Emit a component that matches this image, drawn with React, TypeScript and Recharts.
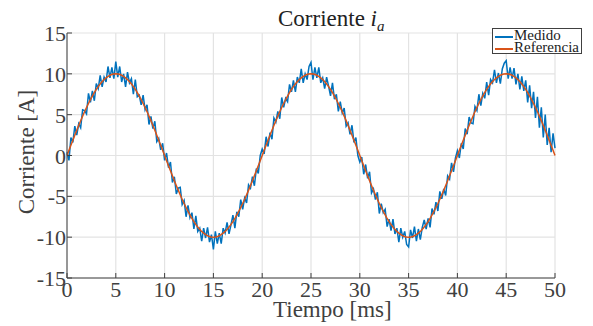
import { LineChart, Line, XAxis, YAxis, CartesianGrid } from 'recharts';

// Colores por defecto de MATLAB
const COLORS = {
  medido: '#0072BD',
  referencia: '#D95319',
  axis: '#404040',
  grid: '#e3e3e3',
};

const FONT = '"Liberation Serif", "Times New Roman", serif';

const xTicks = [0, 5, 10, 15, 20, 25, 30, 35, 40, 45, 50];
const yTicks = [-15, -10, -5, 0, 5, 10, 15];

// tiempo de la medida en ms (muestreo 0.2 ms)
const tiempoMedido = [
  0, 0.2, 0.4, 0.6, 0.8, 1, 1.2, 1.4, 1.6, 1.8, 2, 2.2, 2.4, 2.6, 2.8, 3, 3.2, 3.4, 3.6, 3.8, 4, 4.2, 4.4, 4.6, 4.8,
  5, 5.2, 5.4, 5.6, 5.8, 6, 6.2, 6.4, 6.6, 6.8, 7, 7.2, 7.4, 7.6, 7.8, 8, 8.2, 8.4, 8.6, 8.8, 9, 9.2, 9.4, 9.6, 9.8,
  10, 10.2, 10.4, 10.6, 10.8, 11, 11.2, 11.4, 11.6, 11.8, 12, 12.2, 12.4, 12.6, 12.8, 13, 13.2, 13.4, 13.6, 13.8, 14, 14.2, 14.4, 14.6, 14.8,
  15, 15.2, 15.4, 15.6, 15.8, 16, 16.2, 16.4, 16.6, 16.8, 17, 17.2, 17.4, 17.6, 17.8, 18, 18.2, 18.4, 18.6, 18.8, 19, 19.2, 19.4, 19.6, 19.8,
  20, 20.2, 20.4, 20.6, 20.8, 21, 21.2, 21.4, 21.6, 21.8, 22, 22.2, 22.4, 22.6, 22.8, 23, 23.2, 23.4, 23.6, 23.8, 24, 24.2, 24.4, 24.6, 24.8,
  25, 25.2, 25.4, 25.6, 25.8, 26, 26.2, 26.4, 26.6, 26.8, 27, 27.2, 27.4, 27.6, 27.8, 28, 28.2, 28.4, 28.6, 28.8, 29, 29.2, 29.4, 29.6, 29.8,
  30, 30.2, 30.4, 30.6, 30.8, 31, 31.2, 31.4, 31.6, 31.8, 32, 32.2, 32.4, 32.6, 32.8, 33, 33.2, 33.4, 33.6, 33.8, 34, 34.2, 34.4, 34.6, 34.8,
  35, 35.2, 35.4, 35.6, 35.8, 36, 36.2, 36.4, 36.6, 36.8, 37, 37.2, 37.4, 37.6, 37.8, 38, 38.2, 38.4, 38.6, 38.8, 39, 39.2, 39.4, 39.6, 39.8,
  40, 40.2, 40.4, 40.6, 40.8, 41, 41.2, 41.4, 41.6, 41.8, 42, 42.2, 42.4, 42.6, 42.8, 43, 43.2, 43.4, 43.6, 43.8, 44, 44.2, 44.4, 44.6, 44.8,
  45, 45.2, 45.4, 45.6, 45.8, 46, 46.2, 46.4, 46.6, 46.8, 47, 47.2, 47.4, 47.6, 47.8, 48, 48.2, 48.4, 48.6, 48.8, 49, 49.2, 49.4, 49.6, 49.8,
  50,
];

// corriente medida [A]
const medido = [
  0.4, -0.6, 2.2, 1.6, 3.6, 2.5, 3.9, 3.4, 5.6, 5.5, 5.1, 7.6, 6.5, 7.9, 6.7, 8.8, 8.2, 9.8, 8.4, 9.6, 9.0, 10.9, 9.5, 10.8, 9.4,
  11.5, 9.6, 10.9, 9.0, 10.0, 8.4, 10.2, 8.9, 9.4, 7.5, 9.3, 7.2, 7.4, 6.2, 7.4, 5.6, 6.2, 3.8, 4.8, 3.3, 4.2, 1.7, 2.1, 0.7, 1.5,
  -0.6, 0.3, -1.5, -0.8, -3.3, -2.6, -4.7, -4.0, -3.9, -6.0, -5.5, -7.5, -6.1, -7.6, -7.0, -9.0, -7.4, -9.3, -8.9, -10.5, -8.9, -10.1, -8.8, -10.6, -9.7,
  -11.5, -9.3, -10.8, -9.5, -10.8, -8.9, -9.5, -8.2, -9.6, -8.5, -7.3, -8.9, -6.9, -7.5, -5.4, -6.6, -5.2, -5.8, -3.6, -4.0, -2.6, -3.7, -1.6, -2.2, 0.0,
  0.8, 0.2, 2.3, 1.1, 2.8, 2.0, 4.6, 4.1, 5.4, 4.5, 7.1, 5.9, 7.0, 6.6, 8.7, 7.8, 9.2, 7.8, 9.6, 8.9, 10.6, 8.9, 10.0, 9.3, 10.9,
  11.4, 9.3, 10.8, 9.5, 10.8, 8.9, 9.5, 8.2, 9.6, 8.5, 7.3, 8.9, 6.9, 7.5, 5.4, 6.6, 5.2, 5.8, 3.6, 4.0, 2.6, 3.7, 1.6, 2.2, 0.0,
  -0.8, -0.2, -2.3, -1.1, -2.8, -2.0, -4.6, -4.1, -5.4, -4.5, -7.1, -5.9, -7.0, -6.6, -8.7, -7.8, -9.2, -7.8, -9.6, -8.9, -10.6, -8.9, -10.0, -9.3, -10.9,
  -11.2, -9.1, -10.1, -8.7, -10.5, -9.0, -10.3, -8.8, -7.9, -9.0, -7.7, -8.8, -6.5, -7.2, -5.7, -6.8, -4.4, -5.3, -4.1, -4.9, -2.5, -2.9, -0.9, -2.0, -0.3,
  0.6, -0.3, 1.5, 0.8, 3.3, 2.6, 4.7, 4.0, 3.9, 6.0, 5.5, 7.5, 6.1, 7.6, 7.0, 9.0, 7.4, 9.3, 8.9, 10.5, 8.9, 10.1, 8.8, 10.6, 11.3,
  11.6, 9.4, 10.8, 9.4, 10.7, 8.7, 10.0, 8.1, 9.7, 7.9, 9.2, 6.5, 8.6, 5.8, 7.8, 4.6, 7.2, 3.4, 5.9, 2.2, 5.0, 1.3, 3.4, 0.4, 2.7,
  0.9,
];

// tiempo de la referencia en ms (muestreo 0.25 ms)
const tiempoRef = [
  0, 0.25, 0.5, 0.75, 1, 1.25, 1.5, 1.75, 2, 2.25, 2.5, 2.75, 3, 3.25, 3.5, 3.75, 4, 4.25, 4.5, 4.75,
  5, 5.25, 5.5, 5.75, 6, 6.25, 6.5, 6.75, 7, 7.25, 7.5, 7.75, 8, 8.25, 8.5, 8.75, 9, 9.25, 9.5, 9.75,
  10, 10.25, 10.5, 10.75, 11, 11.25, 11.5, 11.75, 12, 12.25, 12.5, 12.75, 13, 13.25, 13.5, 13.75, 14, 14.25, 14.5, 14.75,
  15, 15.25, 15.5, 15.75, 16, 16.25, 16.5, 16.75, 17, 17.25, 17.5, 17.75, 18, 18.25, 18.5, 18.75, 19, 19.25, 19.5, 19.75,
  20, 20.25, 20.5, 20.75, 21, 21.25, 21.5, 21.75, 22, 22.25, 22.5, 22.75, 23, 23.25, 23.5, 23.75, 24, 24.25, 24.5, 24.75,
  25, 25.25, 25.5, 25.75, 26, 26.25, 26.5, 26.75, 27, 27.25, 27.5, 27.75, 28, 28.25, 28.5, 28.75, 29, 29.25, 29.5, 29.75,
  30, 30.25, 30.5, 30.75, 31, 31.25, 31.5, 31.75, 32, 32.25, 32.5, 32.75, 33, 33.25, 33.5, 33.75, 34, 34.25, 34.5, 34.75,
  35, 35.25, 35.5, 35.75, 36, 36.25, 36.5, 36.75, 37, 37.25, 37.5, 37.75, 38, 38.25, 38.5, 38.75, 39, 39.25, 39.5, 39.75,
  40, 40.25, 40.5, 40.75, 41, 41.25, 41.5, 41.75, 42, 42.25, 42.5, 42.75, 43, 43.25, 43.5, 43.75, 44, 44.25, 44.5, 44.75,
  45, 45.25, 45.5, 45.75, 46, 46.25, 46.5, 46.75, 47, 47.25, 47.5, 47.75, 48, 48.25, 48.5, 48.75, 49, 49.25, 49.5, 49.75,
  50,
];

// corriente de referencia [A]
const referencia = [
  0, 0.79, 1.56, 2.33, 3.09, 3.83, 4.54, 5.23, 5.88, 6.49, 7.07, 7.6, 8.09, 8.53, 8.91, 9.24, 9.51, 9.72, 9.88, 9.97,
  10, 9.97, 9.88, 9.72, 9.51, 9.24, 8.91, 8.53, 8.09, 7.6, 7.07, 6.49, 5.88, 5.23, 4.54, 3.83, 3.09, 2.33, 1.56, 0.79,
  0, -0.79, -1.56, -2.33, -3.09, -3.83, -4.54, -5.23, -5.88, -6.49, -7.07, -7.6, -8.09, -8.53, -8.91, -9.24, -9.51, -9.72, -9.88, -9.97,
  -10, -9.97, -9.88, -9.72, -9.51, -9.24, -8.91, -8.53, -8.09, -7.6, -7.07, -6.49, -5.88, -5.23, -4.54, -3.83, -3.09, -2.33, -1.56, -0.79,
  0, 0.79, 1.56, 2.33, 3.09, 3.83, 4.54, 5.23, 5.88, 6.49, 7.07, 7.6, 8.09, 8.53, 8.91, 9.24, 9.51, 9.72, 9.88, 9.97,
  10, 9.97, 9.88, 9.72, 9.51, 9.24, 8.91, 8.53, 8.09, 7.6, 7.07, 6.49, 5.88, 5.23, 4.54, 3.83, 3.09, 2.33, 1.56, 0.79,
  0, -0.79, -1.56, -2.33, -3.09, -3.83, -4.54, -5.23, -5.88, -6.49, -7.07, -7.6, -8.09, -8.53, -8.91, -9.24, -9.51, -9.72, -9.88, -9.97,
  -10, -9.97, -9.88, -9.72, -9.51, -9.24, -8.91, -8.53, -8.09, -7.6, -7.07, -6.49, -5.88, -5.23, -4.54, -3.83, -3.09, -2.33, -1.56, -0.79,
  0, 0.79, 1.56, 2.33, 3.09, 3.83, 4.54, 5.23, 5.88, 6.49, 7.07, 7.6, 8.09, 8.53, 8.91, 9.24, 9.51, 9.72, 9.88, 9.97,
  10, 9.97, 9.88, 9.72, 9.51, 9.24, 8.91, 8.53, 8.09, 7.6, 7.07, 6.49, 5.88, 5.23, 4.54, 3.83, 3.09, 2.33, 1.56, 0.79,
  0,
];

const medidoData = tiempoMedido.map((t, i) => ({ t, medido: medido[i] }));
const refData = tiempoRef.map((t, i) => ({ t, referencia: referencia[i] }));

const TICK_LEN = 5;

// ticks hacia dentro, estilo MATLAB
const BottomTick = ({ x, y, payload }: any) => (
  <g>
    <line x1={x} x2={x} y1={y} y2={y - TICK_LEN} stroke={COLORS.axis} />
    <text x={x} y={y + 19} textAnchor="middle" fill={COLORS.axis} fontSize={22} fontFamily={FONT}>
      {payload.value}
    </text>
  </g>
);

const LeftTick = ({ x, y, payload }: any) => (
  <g>
    <line x1={x} x2={x + TICK_LEN} y1={y} y2={y} stroke={COLORS.axis} />
    <text x={x - 1} y={y + 8} textAnchor="end" fill={COLORS.axis} fontSize={22} fontFamily={FONT}>
      {payload.value}
    </text>
  </g>
);

const TopTick = ({ x, y }: any) => (
  <line x1={x} x2={x} y1={y} y2={y + TICK_LEN} stroke={COLORS.axis} />
);

const RightTick = ({ x, y }: any) => (
  <line x1={x - TICK_LEN} x2={x} y1={y} y2={y} stroke={COLORS.axis} />
);

const legendItems = [
  { name: 'Medido', color: COLORS.medido },
  { name: 'Referencia', color: COLORS.referencia },
];

export default function App() {
  return (
    <div style={{ position: 'absolute', left: 0, top: 0, width: 593, height: 326, background: '#fff' }}>
      <LineChart width={593} height={326} margin={{ top: 33, right: 38, left: 0, bottom: 0 }}>
        <CartesianGrid stroke={COLORS.grid} strokeWidth={1.2} />
        <XAxis
          dataKey="t"
          type="number"
          domain={[0, 50]}
          ticks={xTicks}
          height={48}
          tickSize={0}
          tickMargin={0}
          stroke={COLORS.axis}
          tick={<BottomTick />}
          interval={0}
          allowDuplicatedCategory={false}
        />
        <XAxis
          xAxisId="top"
          orientation="top"
          dataKey="t"
          type="number"
          domain={[0, 50]}
          ticks={xTicks}
          height={0}
          tickSize={0}
          tickMargin={0}
          stroke={COLORS.axis}
          tick={<TopTick />}
          interval={0}
        />
        <YAxis
          type="number"
          domain={[-15, 15]}
          ticks={yTicks}
          width={67}
          tickSize={0}
          tickMargin={0}
          stroke={COLORS.axis}
          tick={<LeftTick />}
          interval={0}
        />
        <YAxis
          yAxisId="right"
          orientation="right"
          type="number"
          domain={[-15, 15]}
          ticks={yTicks}
          width={0}
          tickSize={0}
          tickMargin={0}
          stroke={COLORS.axis}
          tick={<RightTick />}
          interval={0}
        />
        <Line
          data={medidoData}
          type="linear"
          dataKey="medido"
          stroke={COLORS.medido}
          strokeWidth={1.5}
          dot={false}
          isAnimationActive={false}
        />
        <Line
          data={refData}
          type="linear"
          dataKey="referencia"
          stroke={COLORS.referencia}
          strokeWidth={1.5}
          dot={false}
          isAnimationActive={false}
        />
      </LineChart>
      <div
        style={{
          position: 'absolute',
          left: 492,
          top: 28,
          border: `1px solid ${COLORS.axis}`,
          background: '#fff',
          fontFamily: FONT,
          fontSize: 15,
          lineHeight: '12px',
          color: '#222',
          padding: '0 2px',
        }}
      >
        {legendItems.map((e) => (
          <div key={e.name} style={{ display: 'flex', alignItems: 'center', height: 12 }}>
            <span
              style={{ display: 'inline-block', width: 18, height: 2, background: e.color, marginRight: 1, marginTop: 3 }}
            />
            <span>{e.name}</span>
          </div>
        ))}
      </div>
      <svg
        width={593}
        height={326}
        style={{ position: 'absolute', left: 0, top: 0, pointerEvents: 'none' }}
        fontFamily={FONT}
        fill="#222"
      >
        <text x={278} y={26} fontSize={23}>
          Corriente <tspan fontStyle="italic">i</tspan>
          <tspan fontStyle="italic" fontSize={15} dy={5}>a</tspan>
        </text>
        <text x={273} y={317} fontSize={23} fill={COLORS.axis}>
          Tiempo [ms]
        </text>
        <text transform="translate(34,152) rotate(-90)" textAnchor="middle" fontSize={23} fill={COLORS.axis}>
          Corriente [A]
        </text>
      </svg>
    </div>
  );
}
